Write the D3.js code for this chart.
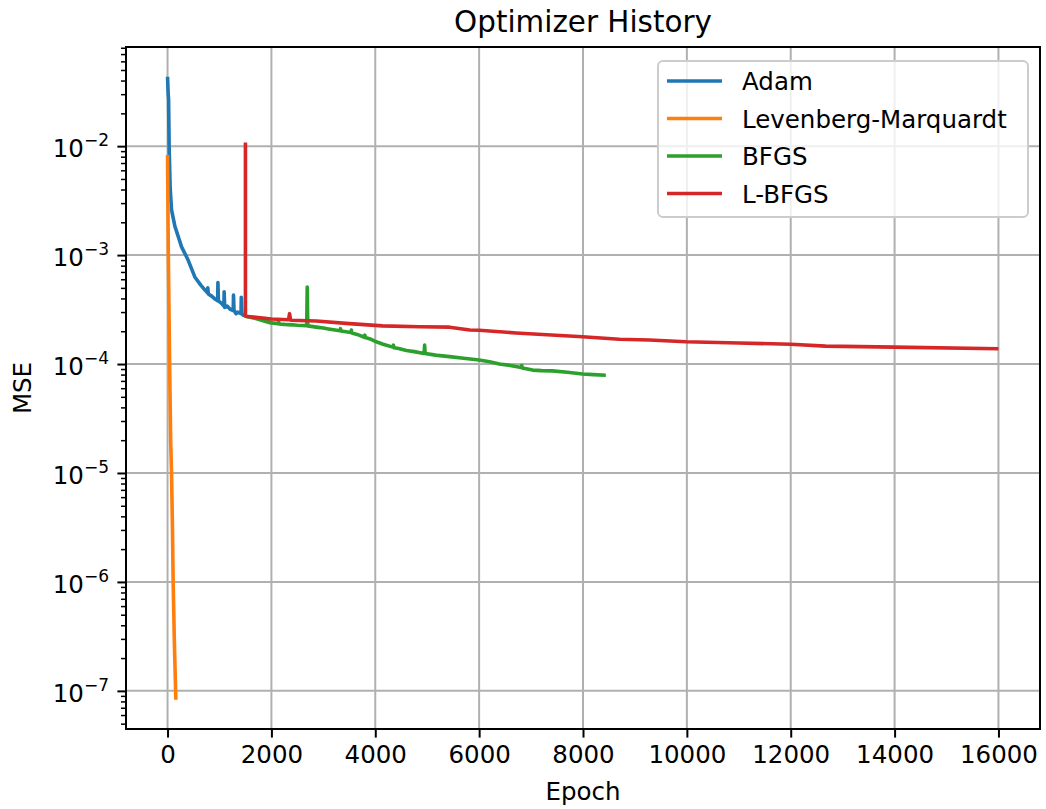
<!DOCTYPE html>
<html>
<head>
<meta charset="utf-8">
<script src="https://cdn.jsdelivr.net/npm/d3@7"></script>
<style>
  body { margin: 0; background: #fff; }
  svg { font-family: "DejaVu Sans", sans-serif; }
</style>
</head>
<body>
<svg id="chart" width="1046" height="809"></svg>
<script>
// Data
const adamEpoch = [0, 12, 20, 31, 50, 77, 140, 270, 396, 525, 640, 717, 770, 775, 785, 850, 900, 965, 970, 980, 1040, 1085, 1090, 1100, 1150, 1200, 1265, 1270, 1280, 1320, 1350, 1415, 1420, 1430, 1460, 1490];
const adamMse = [0.0433, 0.0304, 0.027, 0.0098, 0.0042, 0.0026, 0.00185, 0.00119, 0.0009, 0.00063, 0.00053, 0.00048, 0.00045, 0.0005, 0.00044, 0.00042, 0.0004, 0.00038, 0.00056, 0.00038, 0.00036, 0.00034, 0.00046, 0.00033, 0.00034, 0.00032, 0.00031, 0.00043, 0.00031, 0.00029, 0.0003, 0.00029, 0.00041, 0.00029, 0.00028, 0.000285];

const lmEpoch = [0, 5, 15, 40, 60, 77, 95, 108, 130, 160];
const lmMse = [0.0083, 0.004, 0.001, 0.0001, 0.00002, 0.00001, 0.000003, 0.000001, 0.0000003, 0.000000083];

const bfgsEpoch = [1500, 1700, 1940, 1950, 1960, 2130, 2140, 2150, 2250, 2400, 2500, 2680, 2690, 2700, 2900, 3000, 3100, 3320, 3330, 3340, 3500, 3530, 3540, 3550, 3650, 3790, 3800, 3810, 3900, 4020, 4150, 4340, 4350, 4360, 4450, 4600, 4750, 4940, 4950, 4960, 5100, 5200, 5430, 5700, 6000, 6200, 6390, 6600, 6810, 6820, 6830, 7030, 7200, 7410, 7700, 7990, 8200, 8440];
const bfgsMse = [0.000275, 0.000262, 0.000242, 0.000252, 0.000240, 0.000235, 0.000245, 0.000233, 0.000231, 0.000229, 0.000227, 0.000225, 0.00051, 0.000224, 0.000217, 0.000214, 0.00021, 0.000202, 0.000211, 0.000201, 0.000196, 0.000195, 0.000205, 0.000193, 0.000187, 0.000176, 0.000184, 0.000175, 0.00017, 0.00016, 0.000152, 0.000143, 0.000149, 0.000141, 0.000139, 0.000133, 0.00013, 0.000125, 0.000149, 0.000125, 0.000122, 0.00012, 0.000117, 0.000113, 0.000109, 0.000105, 0.0001, 0.000097, 0.000093, 0.000097, 0.000092, 0.000088, 0.000087, 0.0000866, 0.000084, 0.000081, 0.00008, 0.000079];

const lbfgsEpoch = [1500, 1500, 2000, 2330, 2350, 2370, 2865, 3500, 4140, 4850, 5430, 5820, 6000, 6710, 7990, 8700, 9280, 9980, 11000, 12000, 12670, 14000, 16000];
const lbfgsMse = [0.0108, 0.000275, 0.000259, 0.000255, 0.00029, 0.000252, 0.000248, 0.000235, 0.000224, 0.00022, 0.000218, 0.000205, 0.000204, 0.000193, 0.000178, 0.000169, 0.000166, 0.00016, 0.000156, 0.000152, 0.000146, 0.000143, 0.000138];

const seriesNames = ["Adam", "Levenberg-Marquardt", "BFGS", "L-BFGS"];
const seriesColors = ["#1f77b4", "#ff7f0e", "#2ca02c", "#d62728"];
const xTicks = [0, 2000, 4000, 6000, 8000, 10000, 12000, 14000, 16000];
const yDecades = [-7, -6, -5, -4, -3, -2];

// Layout
const svg = d3.select("#chart");
const margin = {top: 47, right: 6, bottom: 80, left: 126};
const width = 1046, height = 809;
const plotW = width - margin.left - margin.right;
const plotH = height - margin.top - margin.bottom;
const fontSize = 24.5;

const x = d3.scaleLinear().domain([-800, 16800]).range([0, plotW]);
const y = d3.scaleLog().domain([Math.pow(10, -7.35), Math.pow(10, -1.09)]).range([plotH, 0]);

const g = svg.append("g").attr("transform", `translate(${margin.left},${margin.top})`);

// Grid
g.append("g").selectAll("line").data(xTicks).enter().append("line")
    .attr("x1", d => x(d)).attr("x2", d => x(d))
    .attr("y1", 0).attr("y2", plotH)
    .attr("stroke", "#b0b0b0").attr("stroke-width", 2);

g.append("g").selectAll("line").data(yDecades).enter().append("line")
    .attr("x1", 0).attr("x2", plotW)
    .attr("y1", d => y(Math.pow(10, d))).attr("y2", d => y(Math.pow(10, d)))
    .attr("stroke", "#b0b0b0").attr("stroke-width", 2);

// Lines
const line = d3.line().x(d => x(d[0])).y(d => y(d[1]));
const allSeries = [
    d3.zip(adamEpoch, adamMse),
    d3.zip(lmEpoch, lmMse),
    d3.zip(bfgsEpoch, bfgsMse),
    d3.zip(lbfgsEpoch, lbfgsMse)
];
allSeries.forEach((s, i) => {
    g.append("path")
        .datum(s)
        .attr("d", line)
        .attr("fill", "none")
        .attr("stroke", seriesColors[i])
        .attr("stroke-width", 3.6)
        .attr("stroke-linejoin", "round");
});

// Axes
const xAxis = g.append("g")
    .attr("transform", `translate(0,${plotH})`)
    .call(d3.axisBottom(x).tickValues(xTicks).tickFormat(d3.format("d")).tickSize(8.6).tickPadding(8));
xAxis.select(".domain").remove();
xAxis.selectAll("line").attr("stroke-width", 2);
xAxis.selectAll("text").attr("font-size", fontSize).attr("font-family", "DejaVu Sans").attr("fill", "#000");

const minorVals = [];
for (let e = -8; e <= -1; e++) {
    for (let k = 2; k <= 9; k++) {
        const v = k * Math.pow(10, e);
        if (v >= y.domain()[0] && v <= y.domain()[1]) minorVals.push(v);
    }
}
const yMinor = g.append("g")
    .call(d3.axisLeft(y).tickValues(minorVals).tickFormat("").tickSize(5));
yMinor.select(".domain").remove();
yMinor.selectAll("line").attr("stroke-width", 1.5);

const yAxis = g.append("g")
    .call(d3.axisLeft(y).tickValues(yDecades.map(d => Math.pow(10, d))).tickFormat("").tickSize(8.6));
yAxis.select(".domain").remove();
yAxis.selectAll("line").attr("stroke-width", 2);

// Y tick labels with superscript exponents
const yLab = g.append("g").selectAll("text").data(yDecades).enter().append("text")
    .attr("x", -17)
    .attr("y", d => y(Math.pow(10, d)) + 11)
    .attr("text-anchor", "end")
    .attr("font-size", fontSize)
    .attr("fill", "#000");
yLab.append("tspan").text("10");
yLab.append("tspan").attr("dy", -11).attr("font-size", 17).text(d => "\u2212" + (-d));

// Frame
g.append("rect")
    .attr("x", 0).attr("y", 0).attr("width", plotW).attr("height", plotH)
    .attr("fill", "none").attr("stroke", "#000").attr("stroke-width", 2);

// Labels
svg.append("text")
    .attr("x", margin.left + plotW / 2).attr("y", 32)
    .attr("text-anchor", "middle").attr("font-size", 29.4)
    .text("Optimizer History");

svg.append("text")
    .attr("x", margin.left + plotW / 2).attr("y", 800)
    .attr("text-anchor", "middle").attr("font-size", fontSize)
    .text("Epoch");

svg.append("text")
    .attr("transform", `translate(31,${margin.top + plotH / 2}) rotate(-90)`)
    .attr("text-anchor", "middle").attr("font-size", fontSize)
    .text("MSE");

// Legend
const legend = svg.append("g").attr("transform", "translate(658,61)");
legend.append("rect")
    .attr("width", 370).attr("height", 156).attr("rx", 5)
    .attr("fill", "#fff").attr("fill-opacity", 0.8)
    .attr("stroke", "#cccccc").attr("stroke-width", 2);
seriesNames.forEach((name, i) => {
    const cy = 20 + i * 37.5;
    legend.append("line")
        .attr("x1", 9).attr("x2", 64).attr("y1", cy).attr("y2", cy)
        .attr("stroke", seriesColors[i]).attr("stroke-width", 3.6);
    legend.append("text")
        .attr("x", 84).attr("y", cy + 9)
        .attr("font-size", fontSize)
        .text(name);
});
</script>
</body>
</html>
